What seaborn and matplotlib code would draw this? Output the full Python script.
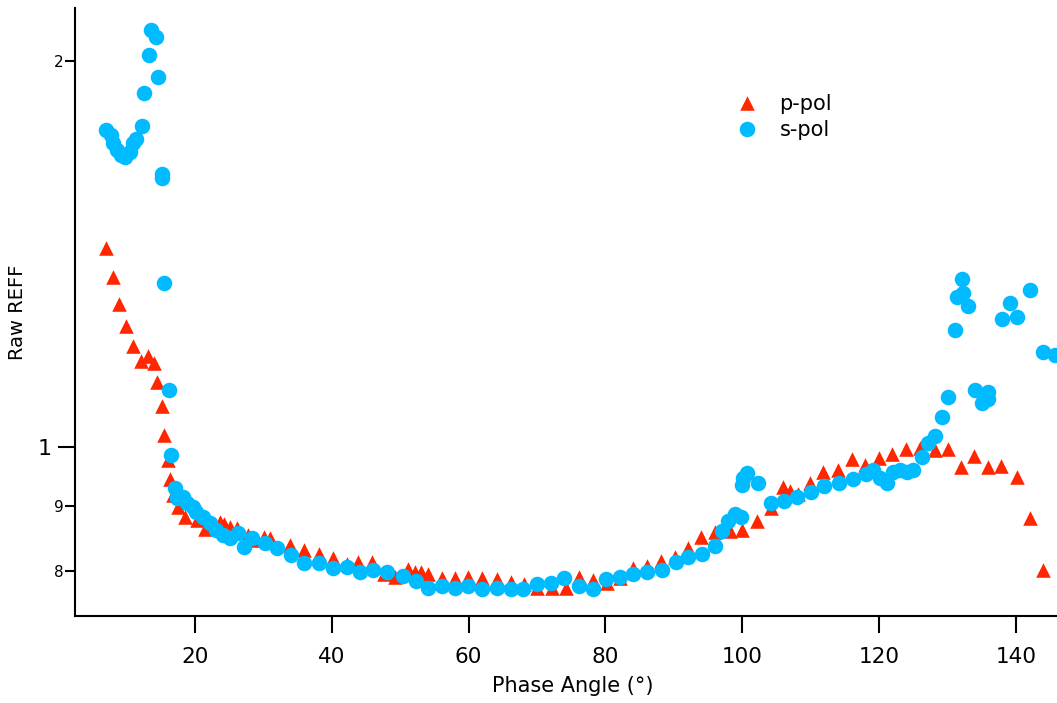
import matplotlib
matplotlib.use("Agg")
import matplotlib.pyplot as plt
import seaborn as sns
from matplotlib.ticker import FixedLocator, FixedFormatter, NullLocator

# ---- data ----
p_angle = [7.0, 8.02, 8.89, 9.92, 10.94, 12.11, 13.13, 14.0, 14.45, 15.18,
           15.47, 16.05, 16.35, 16.78, 17.52, 18.54, 20.29, 21.46, 22.63, 23.65,
           24.24, 25.12, 26.14, 27.75, 29.06, 30.08, 30.96, 33.88, 35.93, 38.12,
           40.17, 42.22, 43.82, 45.87, 47.62, 49.23, 51.13, 52.15, 53.03, 54.05,
           56.10, 58.0, 59.90, 61.95, 64.14, 66.19, 68.09, 69.99, 72.18, 74.22,
           76.12, 78.17, 80.22, 82.12, 84.02, 86.06, 88.11, 90.15, 92.05, 93.95,
           96.0, 98.19, 99.95, 102.14, 104.19, 105.94, 106.96, 108.13, 109.88, 111.79,
           113.98, 116.02, 117.92, 119.97, 121.87, 123.92, 125.96, 128.16, 130.06, 131.96,
           133.86, 135.90, 137.80, 140.14, 142.04, 143.94]
p_reff = [1.429, 1.357, 1.293, 1.243, 1.199, 1.167, 1.178, 1.163, 1.124, 1.076,
          1.022, 0.977, 0.944, 0.918, 0.898, 0.882, 0.877, 0.863, 0.871, 0.874,
          0.871, 0.866, 0.865, 0.854, 0.846, 0.851, 0.849, 0.839, 0.831, 0.825,
          0.819, 0.810, 0.813, 0.813, 0.796, 0.792, 0.803, 0.799, 0.798, 0.796,
          0.790, 0.790, 0.792, 0.790, 0.789, 0.785, 0.781, 0.776, 0.776, 0.776,
          0.792, 0.788, 0.783, 0.790, 0.805, 0.808, 0.815, 0.821, 0.834, 0.851,
          0.858, 0.860, 0.862, 0.876, 0.896, 0.931, 0.924, 0.919, 0.937, 0.956,
          0.960, 0.979, 0.968, 0.980, 0.988, 0.996, 0.998, 0.995, 0.996, 0.965,
          0.984, 0.965, 0.966, 0.948, 0.880, 0.802]

s_angle = [7.0, 7.72, 8.02, 8.6, 9.18, 9.77, 10.5, 10.94, 11.38, 12.25,
           12.55, 13.28, 13.57, 14.3, 14.59, 15.18, 15.2, 15.47, 16.2, 16.49,
           17.08, 17.37, 18.25, 18.83, 19.71, 20.15, 21.17, 22.19, 23.07, 24.09,
           25.12, 26.28, 27.16, 28.33, 30.23, 31.98, 34.03, 35.93, 38.12, 40.17,
           42.22, 44.12, 46.02, 48.06, 50.40, 52.30, 54.05, 56.10, 58.0, 59.90,
           61.95, 64.14, 66.19, 67.94, 69.99, 72.03, 73.93, 76.12, 78.17, 80.07,
           82.12, 84.02, 86.06, 88.26, 90.30, 92.05, 94.10, 96.0, 97.02, 97.90,
           98.93, 99.80, 99.95, 100.09, 100.68, 102.29, 104.19, 106.09, 107.99, 110.03,
           111.93, 114.13, 116.17, 118.07, 119.09, 120.12, 121.14, 122.02, 123.04, 124.06,
           124.94, 126.26, 127.13, 128.16, 129.18, 130.06, 131.08, 131.37, 132.10, 132.2,
           132.98, 134.00, 135.02, 135.90, 135.9, 137.95, 139.12, 140.14, 142.04, 143.94,
           145.70]
s_reff = [1.767, 1.751, 1.726, 1.704, 1.690, 1.684, 1.699, 1.726, 1.739, 1.780,
          1.888, 2.022, 2.115, 2.088, 1.944, 1.633, 1.621, 1.342, 1.108, 0.986,
          0.929, 0.912, 0.914, 0.904, 0.898, 0.890, 0.882, 0.872, 0.862, 0.854,
          0.849, 0.857, 0.836, 0.849, 0.842, 0.834, 0.824, 0.812, 0.812, 0.805,
          0.806, 0.799, 0.802, 0.799, 0.793, 0.786, 0.776, 0.779, 0.776, 0.779,
          0.774, 0.776, 0.774, 0.774, 0.781, 0.783, 0.790, 0.779, 0.774, 0.789,
          0.792, 0.796, 0.799, 0.802, 0.813, 0.821, 0.825, 0.837, 0.860, 0.876,
          0.887, 0.882, 0.934, 0.946, 0.954, 0.937, 0.904, 0.908, 0.914, 0.922,
          0.932, 0.937, 0.944, 0.953, 0.960, 0.946, 0.937, 0.956, 0.960, 0.956,
          0.960, 0.982, 1.007, 1.020, 1.055, 1.094, 1.234, 1.309, 1.352, 1.318,
          1.288, 1.108, 1.082, 1.104, 1.090, 1.259, 1.295, 1.263, 1.326, 1.186,
          1.180]

x_ticks = [20, 40, 60, 80, 100, 120, 140]
y_major = [1.0]
y_major_labels = ["1"]
y_minor = [0.8, 0.9, 2.0]
y_minor_labels = ["8", "9", "2"]

# ---- style ----
sns.set_theme(style="ticks")
plt.rcParams["font.family"] = ["DejaVu Sans"]

fig = plt.figure(figsize=(10.57, 7.03), dpi=100)
ax = fig.add_axes([75 / 1057, 87 / 703, 982 / 1057, 608 / 703])

sns.scatterplot(x=p_angle, y=p_reff, marker="^", color="#FF2600", s=110,
                linewidth=0, label="p-pol", ax=ax)
sns.scatterplot(x=s_angle, y=s_reff, marker="o", color="#00BBFF", s=125,
                linewidth=0, label="s-pol", ax=ax)

ax.set_yscale("log")
ax.set_xlim(2.46, 146.0)
ax.set_ylim(0.738, 2.2)

ax.xaxis.set_major_locator(FixedLocator(x_ticks))
ax.xaxis.set_minor_locator(NullLocator())
ax.yaxis.set_major_locator(FixedLocator(y_major))
ax.yaxis.set_major_formatter(FixedFormatter(y_major_labels))
ax.yaxis.set_minor_locator(FixedLocator(y_minor))
ax.yaxis.set_minor_formatter(FixedFormatter(y_minor_labels))

for side in ["top", "right"]:
    ax.spines[side].set_visible(False)
for side in ["left", "bottom"]:
    ax.spines[side].set_linewidth(1.5)
    ax.spines[side].set_color("black")

ax.tick_params(axis="x", which="major", direction="out", length=12, width=1.5,
               labelsize=15.5, pad=10, colors="black")
ax.tick_params(axis="y", which="major", direction="out", length=12, width=1.5,
               labelsize=16, pad=5, colors="black")
ax.tick_params(axis="y", which="minor", direction="out", length=7, width=1.5,
               labelsize=11, pad=1, colors="black")

ax.set_xlabel("Phase Angle (°)", fontsize=15, color="black")
ax.set_ylabel("Raw REFF", fontsize=14, color="black")
ax.xaxis.set_label_coords(0.507, -0.0987)
ax.yaxis.set_label_coords(-0.049, 0.5)

ax.legend(loc="upper left", bbox_to_anchor=(707.7 / 1057, 1 - 75.5 / 703),
          bbox_transform=fig.transFigure, frameon=False, fontsize=15,
          handletextpad=0.55, labelspacing=0.3, scatteryoffsets=[0.5],
          borderpad=0.4, labelcolor="black")

fig.savefig("out.png", dpi=100)
